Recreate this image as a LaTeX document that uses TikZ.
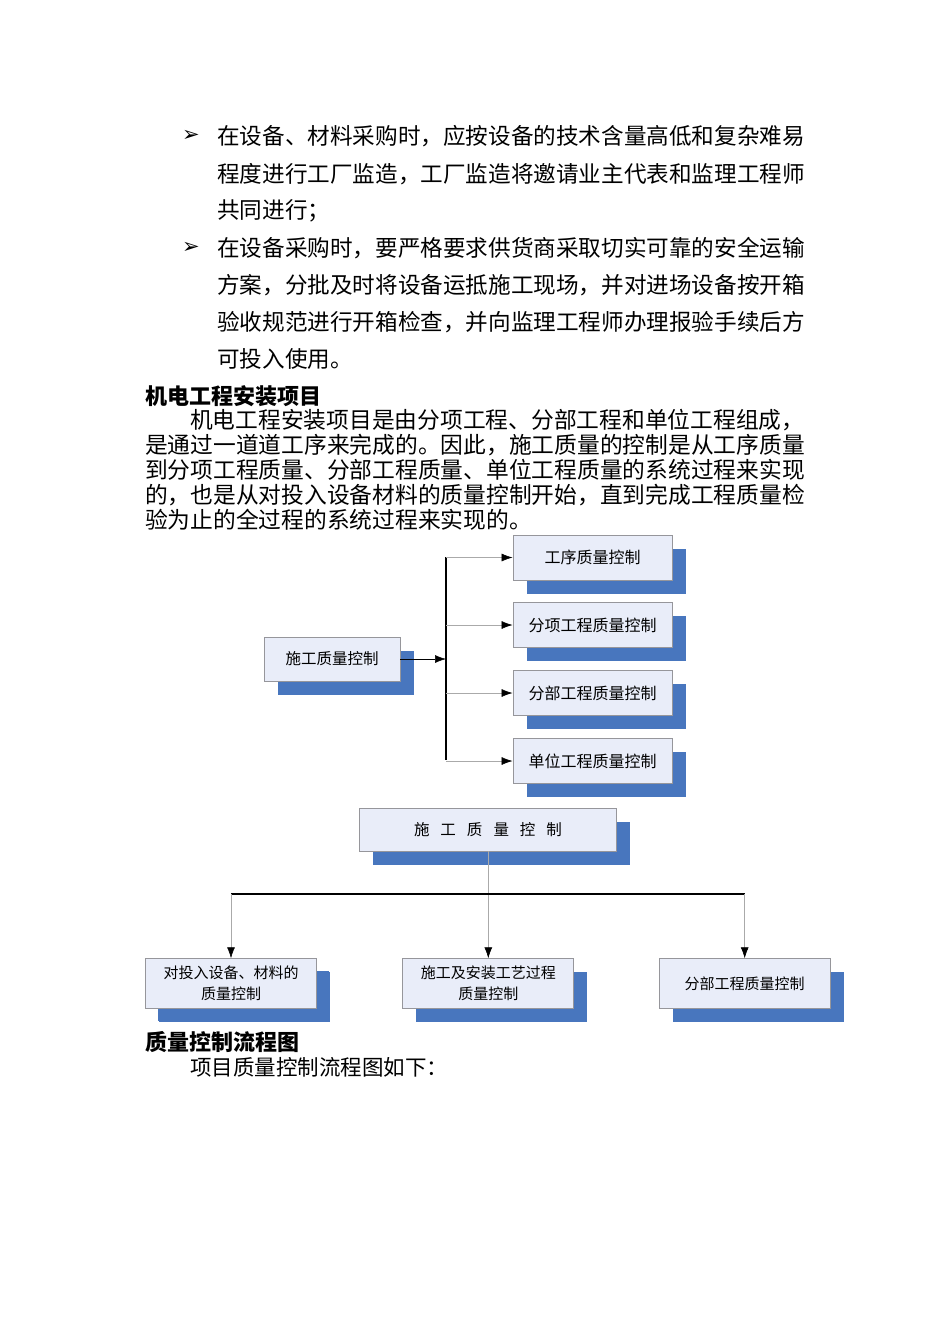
\documentclass[tikz,border=0pt]{standalone}
\usepackage{fontspec}
\setmainfont{Noto Sans CJK SC}
\newfontfamily\markfont{DejaVu Sans}
\usepackage{tikz}
\usepackage{xcolor}
\usetikzlibrary{shadows,arrows.meta,positioning}

\definecolor{boxfill}{RGB}{233,237,249}
\definecolor{boxline}{RGB}{150,150,155}
\definecolor{shadowblue}{RGB}{72,118,190}
\definecolor{linkgray}{RGB}{170,170,170}

\tikzset{
  qbox/.style={draw=boxline,fill=boxfill,line width=0.9pt,inner sep=0pt,align=center,
    font=\fontsize{15.5pt}{21pt}\selectfont,
    general shadow={fill=shadowblue,shadow xshift=13.5pt,shadow yshift=-13.5pt}},
  bodyline/.style={anchor=west,inner sep=0pt,font=\fontsize{22.6pt}{26pt}\selectfont},
  paraline/.style={anchor=west,inner sep=0pt,font=\fontsize{22.75pt}{26pt}\selectfont},
  headline/.style={anchor=west,inner sep=0pt,font=\fontsize{22pt}{26pt}\selectfont\bfseries},
  bulletmark/.style={inner sep=0pt,font=\fontsize{21pt}{24pt}\markfont},
  tip/.style={-{Latex[length=11pt,width=8pt,color=black]}},
}

\begin{document}
\begin{tikzpicture}[x=1pt,y=-1pt]
            \useasboundingbox[fill=white] (0,0) rectangle (950,1344);
            \node[bulletmark] (mk1) at (191,136) {➢};
            \node[bodyline] (b1) at (217,136) {在设备、材料采购时，应按设备的技术含量高低和复杂难易};
            \node[bodyline] (b2) at (217,174) {程度进行工厂监造，工厂监造将邀请业主代表和监理工程师};
            \node[bodyline] (b3) at (217,211) {共同进行；};
            \node[bulletmark] (mk2) at (191,248) {➢};
            \node[bodyline] (b4) at (217,248) {在设备采购时，要严格要求供货商采取切实可靠的安全运输};
            \node[bodyline] (b5) at (217,285) {方案，分批及时将设备运抵施工现场，并对进场设备按开箱};
            \node[bodyline] (b6) at (217,322) {验收规范进行开箱检查，并向监理工程师办理报验手续后方};
            \node[bodyline] (b7) at (217,359) {可投入使用。};
            \node[headline] (h1) at (145,396) {机电工程安装项目};
            \node[paraline] (p1) at (190,420) {机电工程安装项目是由分项工程、分部工程和单位工程组成，};
            \node[paraline] (p2) at (145,445) {是通过一道道工序来完成的。因此，施工质量的控制是从工序质量};
            \node[paraline] (p3) at (145,470) {到分项工程质量、分部工程质量、单位工程质量的系统过程来实现};
            \node[paraline] (p4) at (145,495) {的，也是从对投入设备材料的质量控制开始，直到完成工程质量检};
            \node[paraline] (p5) at (145,520) {验为止的全过程的系统过程来实现的。};

            \node[qbox,minimum width=136pt,minimum height=44pt] (ctrl) at (332,659) {施工质量控制};
            \node[qbox,minimum width=159pt,minimum height=45pt,font=\fontsize{16pt}{20pt}\selectfont] (proc) at (592.5,557.5) {工序质量控制};
            \node[qbox,minimum width=159pt,minimum height=45pt,font=\fontsize{16pt}{20pt}\selectfont] (item) at (592.5,625) {分项工程质量控制};
            \node[qbox,minimum width=159pt,minimum height=45pt,font=\fontsize{16pt}{20pt}\selectfont] (part) at (592.5,693) {分部工程质量控制};
            \node[qbox,minimum width=159pt,minimum height=45pt,font=\fontsize{16pt}{20pt}\selectfont] (unit) at (592.5,761) {单位工程质量控制};
            \coordinate (bustop) at (446,557);
            \coordinate (busbot) at (446,760);
            \draw[line width=1.3pt] (bustop) -- (busbot);
            \draw[tip,line width=0.6pt] (ctrl.east) -- (ctrl.east -| bustop);
            \draw[tip,linkgray,line width=0.6pt] (proc.west -| bustop) -- (proc.west);
            \draw[tip,linkgray,line width=0.6pt] (item.west -| bustop) -- (item.west);
            \draw[tip,linkgray,line width=0.6pt] (part.west -| bustop) -- (part.west);
            \draw[tip,linkgray,line width=0.6pt] (unit.west -| bustop) -- (unit.west);

            \node[qbox,minimum width=257pt,minimum height=43pt] (top) at (488,829.5) {施\hspace{11pt}工\hspace{11pt}质\hspace{11pt}量\hspace{11pt}控\hspace{11pt}制};
            \node[qbox,minimum width=171pt,minimum height=50pt,font=\fontsize{15pt}{21pt}\selectfont,general shadow={fill=shadowblue,shadow xshift=12.5pt,shadow yshift=-12.5pt}] (inp) at (231,983.7) {对投入设备、材料的\\质量控制};
            \node[qbox,minimum width=171pt,minimum height=50pt,font=\fontsize{15pt}{21pt}\selectfont] (craft) at (488.3,983.7) {施工及安装工艺过程\\质量控制};
            \node[qbox,minimum width=171pt,minimum height=50pt,font=\fontsize{15pt}{21pt}\selectfont] (sub) at (744.7,983.7) {分部工程质量控制};
            \coordinate (hl) at (231,894);
            \coordinate (hr) at (744.7,894);
            \draw[tip,linkgray,line width=0.6pt] (top.south -| craft) -- (craft.north);
            \draw[line width=1.3pt] (hl) -- (hr);
            \draw[tip,linkgray,line width=0.6pt] (hl) -- (inp.north);
            \draw[tip,linkgray,line width=0.6pt] (hr) -- (sub.north);

            \node[headline] (h2) at (145,1042) {质量控制流程图};
            \node[paraline,font=\fontsize{21.5pt}{26pt}\selectfont] (p6) at (190,1067) {项目质量控制流程图如下：};
        \end{tikzpicture}
\end{document}
